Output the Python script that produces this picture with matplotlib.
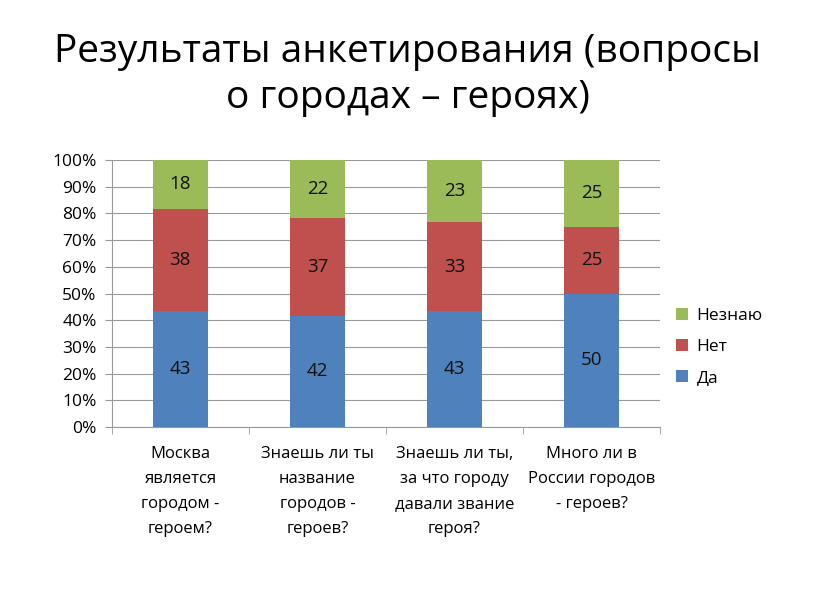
import matplotlib.pyplot as plt
import numpy as np
from matplotlib.ticker import FixedLocator

plt.rcParams['font.family'] = ['Open Sans', 'DejaVu Sans']

categories = ["Москва\nявляется\nгородом -\nгероем?",
              "Знаешь ли ты\nназвание\nгородов -\nгероев?",
              "Знаешь ли ты,\nза что городу\nдавали звание\nгероя?",
              "Много ли в\nРоссии городов\n- героев?"]
da = [43, 42, 43, 50]
net = [38, 37, 33, 25]
neznayu = [18, 22, 23, 25]

series = [("Да", da, '#4F81BD'), ("Нет", net, '#C0504D'), ("Незнаю", neznayu, '#9BBB59')]
totals = np.array(da) + np.array(net) + np.array(neznayu)

fig = plt.figure(figsize=(8.16, 6.13), dpi=100)
ax = fig.add_axes([0.137, 0.3034, 0.672, 0.4356])

x = np.arange(len(categories))
bottom = np.zeros(len(categories))
handles = []
for name, vals, col in series:
    frac = np.array(vals) / totals
    b = ax.bar(x, frac, 0.4, bottom=bottom, color=col, label=name, zorder=3)
    handles.append(b)
    for xi, f, bt, v in zip(x, frac, bottom, vals):
        ax.text(xi, bt + f / 2, str(v), ha='center', va='center', fontsize=13.5, color='#111111', zorder=4)
    bottom += frac

ax.set_xlim(-0.5, len(categories) - 0.5)
ax.set_ylim(0, 1)
ax.set_yticks(np.arange(0, 1.01, 0.1))
ax.set_yticklabels([f"{int(round(v * 100))}%" for v in np.arange(0, 1.01, 0.1)], fontsize=12.5)
ax.yaxis.grid(True, color='#9a9a9a', linewidth=0.8, zorder=0)
ax.set_xticks(x)
ax.set_xticklabels(categories, fontsize=12, linespacing=1.75)
ax.tick_params(axis='x', length=0, pad=14)
ax.xaxis.set_minor_locator(FixedLocator(np.arange(-0.5, len(categories), 1)))
ax.tick_params(axis='x', which='minor', length=5, color='#9a9a9a')
ax.tick_params(axis='y', length=5, color='#9a9a9a', direction='out', pad=6)
for s in ['top', 'right']:
    ax.spines[s].set_visible(False)
for s in ['left', 'bottom']:
    ax.spines[s].set_color('#9a9a9a')

ax.legend(handles[::-1], [h.get_label() for h in handles[::-1]], loc='center left',
          bbox_to_anchor=(1.0, 0.3), frameon=False, fontsize=12.5, handlelength=0.7,
          handleheight=0.7, handletextpad=0.5, labelspacing=0.85)

fig.text(0.5, 0.878, "Результаты анкетирования (вопросы\nо городах – героях)", ha='center', va='center',
         fontsize=28, linespacing=1.28)

fig.savefig("out.png", dpi=100)
